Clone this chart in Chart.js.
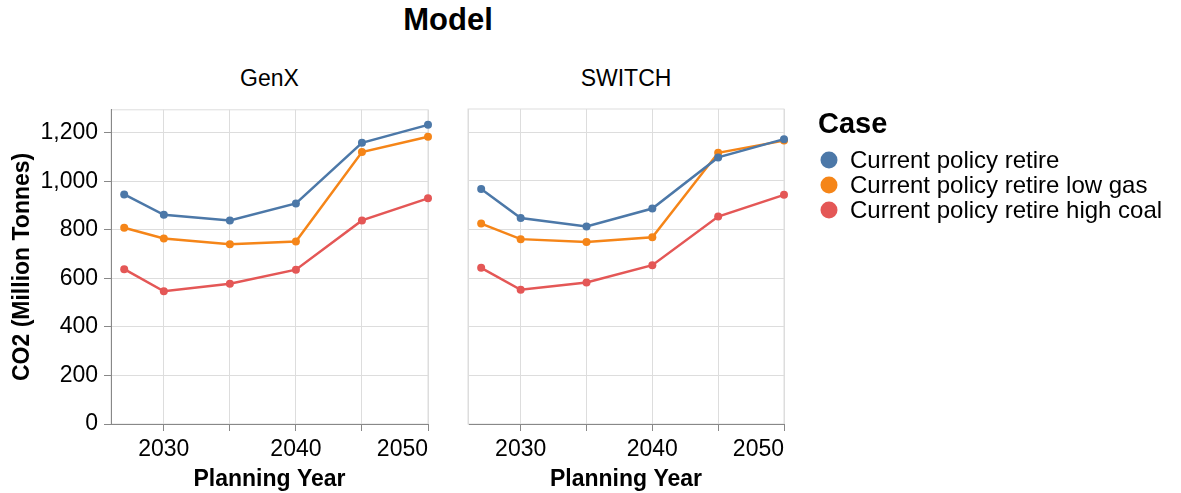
<!DOCTYPE html>
<html>
<head>
<meta charset="utf-8">
<script src="https://cdn.jsdelivr.net/npm/chart.js@4.4.0/dist/chart.umd.min.js"></script>
<style>
  body { margin: 0; background: #fff; width: 1181px; height: 493px; position: relative; overflow: hidden;
         font-family: "Liberation Sans", Arial, Helvetica, sans-serif; color: #000; }
  canvas { position: absolute; }
  .t { position: absolute; transform: translate(-50%, -50%); line-height: 1; white-space: nowrap; }
  .leg { position: absolute; line-height: 1; white-space: nowrap; }
  .dot { position: absolute; width: 17px; height: 17px; border-radius: 50%; transform: translate(-50%, -50%); }
</style>
</head>
<body>
<div class="t" style="left:448px;top:19px;font-size:31px;font-weight:bold">Model</div>
<div class="t" id="h0" style="left:269.5px;top:78px;font-size:23px"></div>
<div class="t" id="h1" style="left:626px;top:78px;font-size:23px"></div>
<canvas id="c1" width="460" height="403" style="left:0;top:90px"></canvas>
<canvas id="c2" width="360" height="403" style="left:460px;top:90px"></canvas>
<div id="legend"></div>

<script>
const models = ['GenX', 'SWITCH'];
const years = [2027, 2030, 2035, 2040, 2045, 2050];
const cases = ['Current policy retire', 'Current policy retire low gas', 'Current policy retire high coal'];
const colors = ['#4c78a8', '#f58518', '#e45756'];

// CO2, million tonnes
const genxRetire    = [946, 862, 839, 909, 1159, 1233];
const genxLowGas    = [809, 765, 741, 752, 1121, 1184];
const genxHighCoal  = [638, 547, 578, 636, 839, 930];
const switchRetire   = [966, 847, 812, 886, 1096, 1171];
const switchLowGas   = [824, 760, 748, 768, 1115, 1165];
const switchHighCoal = [642, 552, 582, 653, 853, 942];

const xTicks = [2026, 2030, 2035, 2040, 2045, 2050];
const yTicks = [0, 200, 400, 600, 800, 1000, 1200];
const yMax = 1295;

const FONT = '"Liberation Sans", Arial, Helvetica, sans-serif';

document.getElementById('h0').textContent = models[0];
document.getElementById('h1').textContent = models[1];

// legend
let leg = '<div class="leg" style="left:818px;top:108.5px;font-size:29px;font-weight:bold">Case</div>';
const legY = [160, 185, 210];
for (let i = 0; i < cases.length; ++i) {
  leg += '<div class="dot" style="left:829px;top:' + legY[i] + 'px;background:' + colors[i] + '"></div>';
  leg += '<div class="leg" style="left:850px;top:' + (legY[i] - 12) + 'px;font-size:24px">' + cases[i] + '</div>';
}
document.getElementById('legend').innerHTML = leg;

// light view frame around each cell, drawn under the axes
const frame = {
  id: 'frame',
  beforeDraw(chart) {
    const a = chart.chartArea, ctx = chart.ctx;
    ctx.save();
    ctx.strokeStyle = '#ddd';
    ctx.lineWidth = 1;
    ctx.strokeRect(a.left, a.top, a.right - a.left, a.bottom - a.top);
    ctx.restore();
  }
};

function makeChart(el, series, first) {
  const datasets = [];
  for (let i = 0; i < series.length; ++i) {
    datasets.push({
      label: cases[i],
      data: years.map((y, j) => ({x: y, y: series[i][j]})),
      borderColor: colors[i],
      backgroundColor: colors[i],
      borderWidth: 2.5,
      pointRadius: 4,
      pointHoverRadius: 4,
      pointBorderWidth: 0,
      tension: 0,
      clip: false
    });
  }
  return new Chart(el, {
    type: 'line',
    data: { datasets: datasets },
    plugins: [frame],
    options: {
      responsive: false,
      animation: false,
      devicePixelRatio: 1,
      layout: { padding: { top: 19, right: first ? 32 : 36, bottom: 0, left: 0 } },
      plugins: { legend: { display: false }, tooltip: { enabled: false } },
      scales: {
        x: {
          type: 'linear',
          min: 2026,
          max: 2050,
          afterBuildTicks: s => { s.ticks = xTicks.map(v => ({value: v})); },
          afterFit: s => { s.height = 69; },
          grid: {
            color: '#ddd',
            tickColor: ctx => (ctx.tick && ctx.tick.value === 2026) ? 'rgba(0,0,0,0)' : '#888',
            tickLength: 7
          },
          border: { color: '#888' },
          ticks: {
            align: 'inner',
            padding: 5,
            maxRotation: 0,
            autoSkip: false,
            color: '#000',
            font: { family: FONT, size: 23 },
            callback: v => (v % 10 === 0) ? String(v) : ''
          },
          title: {
            display: true,
            text: 'Planning Year',
            color: '#000',
            padding: { top: 0, bottom: 0 },
            font: { family: FONT, size: 23, weight: 'bold' }
          }
        },
        y: {
          min: 0,
          max: yMax,
          afterBuildTicks: s => { s.ticks = yTicks.map(v => ({value: v})); },
          afterFit: s => { s.width = first ? 111 : 8; },
          grid: {
            color: '#ddd',
            tickColor: '#888',
            tickLength: 7,
            drawTicks: first
          },
          border: { color: first ? '#888' : '#ddd' },
          ticks: {
            display: first,
            padding: 6,
            autoSkip: false,
            color: '#000',
            font: { family: FONT, size: 23 },
            callback: v => v.toLocaleString('en-US')
          },
          title: {
            display: first,
            text: 'CO2 (Million Tonnes)',
            color: '#000',
            padding: { top: 9, bottom: 0 },
            font: { family: FONT, size: 23, weight: 'bold' }
          }
        }
      }
    }
  });
}

makeChart(document.getElementById('c1'), [genxRetire, genxLowGas, genxHighCoal], true);
makeChart(document.getElementById('c2'), [switchRetire, switchLowGas, switchHighCoal], false);
</script>
</body>
</html>
